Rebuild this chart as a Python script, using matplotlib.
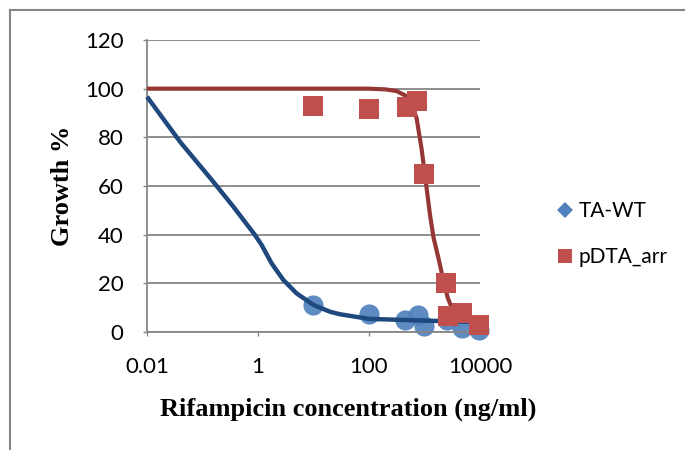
import matplotlib
matplotlib.use("Agg")
import matplotlib.pyplot as plt
from matplotlib.lines import Line2D

# measured points (ng/ml, growth %)
wt_x = [10, 100, 450, 780, 1000, 2500, 4700, 9500]
wt_y = [11.3, 7.3, 5.0, 7.0, 2.5, 5.0, 1.5, 0.8]

arr_x = [10, 100, 480, 720, 1000, 2450, 2700, 4800, 9600]
arr_y = [92.9, 91.5, 92.5, 95.0, 65.0, 20.0, 6.6, 7.7, 3.0]

# fitted curves
wt_fit_x = [0.01, 0.04, 0.147, 0.36, 0.88, 1.16, 1.76, 2.86, 4.95, 10, 20,
            30, 100, 480, 2000, 6300]
wt_fit_y = [96.7, 78.0, 62.5, 51.5, 39.9, 35.8, 28.2, 21.4, 15.9, 11.1, 8.3,
            7.3, 5.4, 4.9, 4.5, 4.2]

arr_fit_x = [0.01, 1, 100, 200, 316, 450, 560, 720, 890, 1000, 1260, 1450,
             1800, 2200, 2630, 3100]
arr_fit_y = [100, 100, 100, 99.7, 99.0, 97.2, 94.5, 88.0, 75.0, 66.0, 48.0,
             39.0, 30.0, 21.0, 14.0, 10.0]

xticks = [0.01, 1, 100, 10000]
xticklabels = ["0.01", "1", "100", "10000"]
yticks = [0, 20, 40, 60, 80, 100, 120]

blue_pt = "#4F81BD"
blue_ln = "#1F497D"
red_pt = "#C0504D"
red_ln = "#953735"
grid_c = "#868686"

tick_font = "Lato"
label_font = "Liberation Serif"

fig = plt.figure(figsize=(6.85, 4.5), dpi=100)
ax = fig.add_axes([0.2146, 0.2622, 0.4861, 0.6489])

ax.plot(wt_x, wt_y, "o", color=blue_pt, markersize=14.5, alpha=0.92,
        markeredgewidth=0, zorder=2, clip_on=False)
ax.plot(wt_fit_x, wt_fit_y, "-", color=blue_ln, linewidth=3.2, zorder=3,
        solid_capstyle="butt", solid_joinstyle="round", clip_on=False)
ax.plot(arr_fit_x, arr_fit_y, "-", color=red_ln, linewidth=3.0, zorder=3,
        solid_capstyle="butt", solid_joinstyle="round", clip_on=False)
ax.plot(arr_x, arr_y, "s", color=red_pt, markersize=14.5, markeredgewidth=0,
        zorder=4, clip_on=False)

ax.set_xscale("log")
ax.set_xlim(0.01, 10000)
ax.set_ylim(0, 120)
ax.set_xticks(xticks)
ax.set_xticklabels(xticklabels)
ax.xaxis.set_minor_locator(matplotlib.ticker.NullLocator())
ax.set_yticks(yticks)

ax.grid(axis="y", color=grid_c, linewidth=1.3)
ax.set_axisbelow(True)
for side in ["top", "right"]:
    ax.spines[side].set_visible(False)
for side in ["left", "bottom"]:
    ax.spines[side].set_color(grid_c)
    ax.spines[side].set_linewidth(1.3)
ax.tick_params(axis="both", length=3, width=1, color=grid_c, labelsize=16)
ax.tick_params(axis="y", pad=14)
ax.tick_params(axis="x", pad=15)
for t in ax.get_xticklabels() + ax.get_yticklabels():
    t.set_fontfamily(tick_font)

ax.set_xlabel("Rifampicin concentration (ng/ml)", fontfamily=label_font,
              fontweight="bold", fontsize=19)
ax.xaxis.set_label_coords(0.604, -0.225)
ax.set_ylabel("Growth %", fontfamily=label_font, fontweight="bold",
              fontsize=19)
ax.yaxis.set_label_coords(-0.22, 0.5)

handles = [
    Line2D([], [], marker="D", linestyle="none", color=blue_pt, markersize=8,
           markeredgewidth=0, label="TA-WT"),
    Line2D([], [], marker="s", linestyle="none", color=red_pt, markersize=10,
           markeredgewidth=0, label="pDTA_arr"),
]
fig.legend(handles=handles, loc="upper left", bbox_to_anchor=(0.788, 0.594),
           frameon=False, prop={"family": tick_font, "size": 15},
           handlelength=0.6, handletextpad=0.35, labelspacing=1.25)

# outer frame of the chart area
fig.add_artist(Line2D([10 / 685, 10 / 685], [0, 1 - 10 / 450],
                      color=grid_c, linewidth=1.5))
fig.add_artist(Line2D([10 / 685, 1], [1 - 10 / 450, 1 - 10 / 450],
                      color=grid_c, linewidth=1.5))

fig.savefig("out.png", dpi=100)
